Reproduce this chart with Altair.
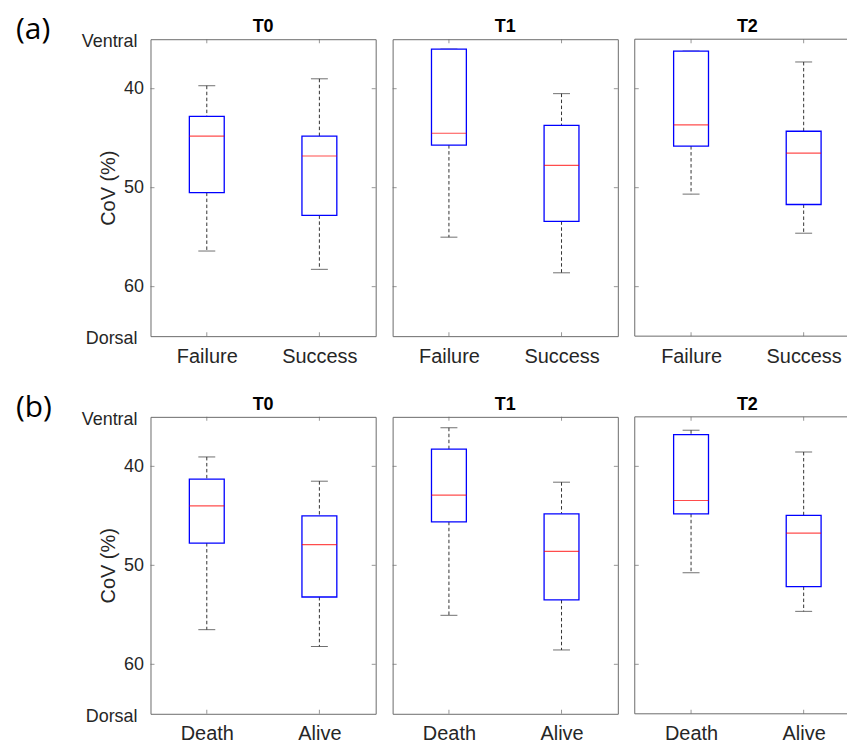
import altair as alt
import pandas as pd

# ---------------- data ----------------
panel_tags = ["(a)", "(b)"]
times = ["T0", "T1", "T2"]
groups_a = ["Failure", "Success"]
groups_b = ["Death", "Alive"]
y_ticks = [40, 50, 60]
end_labels = ["Ventral", "Dorsal"]
end_values = [35, 65]

# row (a): one [first group, second group] pair per time point
a_wlo = [[39.7, 39.0], [36.0, 40.5], [36.2, 37.3]]
a_q1 = [[42.8, 44.8], [36.0, 43.7], [36.2, 44.3]]
a_med = [[44.8, 46.8], [44.5, 47.75], [43.65, 46.5]]
a_q3 = [[50.5, 52.8], [45.7, 53.4], [45.8, 51.7]]
a_whi = [[56.4, 58.25], [55.0, 58.6], [50.65, 54.6]]

# row (b)
b_wlo = [[39.05, 41.5], [36.1, 41.6], [36.35, 38.55]]
b_q1 = [[41.3, 45.0], [38.25, 44.8], [36.8, 44.95]]
b_med = [[44.0, 47.9], [42.9, 48.6], [43.45, 46.75]]
b_q3 = [[47.75, 53.2], [45.6, 53.5], [44.8, 52.15]]
b_whi = [[56.5, 58.2], [55.05, 58.55], [50.75, 54.65]]

# ---------------- styling ----------------
W, H = 226, 298
W_LAST = 211          # last panel runs off the right edge of the page, as in the reference
BOX_W = 35
CAP_W = 17
AX_COL = "#6b6b6b"
TXT_COL = "#262626"
FONT = "Liberation Sans"


def make_df(groups, wlo, q1, med, q3, whi, ti):
    return pd.DataFrame({
        "group": groups,
        "wlo": wlo[ti],
        "q1": q1[ti],
        "med": med[ti],
        "q3": q3[ti],
        "whi": whi[ti],
    })


def panel(df, groups, time, tag, col):
    first = col == 0
    last = col == 2
    pw = W_LAST if last else W
    if last:
        xscale = alt.Scale(type="point", domain=groups, range=[W * 0.25, W * 0.75], padding=0)
    else:
        xscale = alt.Scale(type="point", padding=0.5, domain=groups)
    xaxis = alt.Axis(title=None, labelAngle=0, labelFontSize=20, labelFont=FONT,
                     labelColor=TXT_COL, tickSize=0, domain=False, labelPadding=10,
                     grid=False)
    x = alt.X("group:N", scale=xscale, axis=xaxis, sort=groups)
    yscale = alt.Scale(domain=[35, 65], reverse=True, nice=False, zero=False)
    if first:
        yaxis = alt.Axis(values=y_ticks, title="CoV (%)", titleFontSize=20, titleFont=FONT,
                         titleFontWeight="normal", titleColor=TXT_COL, labelFontSize=18,
                         labelFont=FONT, labelColor=TXT_COL, tickSize=0, domain=False,
                         labelPadding=7, titlePadding=5, grid=False)
    else:
        yaxis = None

    def Y(field):
        return alt.Y(field, scale=yscale, axis=yaxis)

    base = alt.Chart(df)
    whisk_lo = base.mark_rule(strokeDash=[3.5, 2.5], color="#333333", strokeWidth=1).encode(
        x=x, y=Y("wlo:Q"), y2="q1:Q")
    whisk_hi = base.mark_rule(strokeDash=[3.5, 2.5], color="#333333", strokeWidth=1).encode(
        x=x, y=Y("q3:Q"), y2="whi:Q")
    cap_lo = base.mark_tick(orient="horizontal", size=CAP_W, thickness=1, color="#333333").encode(
        x=x, y=Y("wlo:Q"))
    cap_hi = base.mark_tick(orient="horizontal", size=CAP_W, thickness=1, color="#333333").encode(
        x=x, y=Y("whi:Q"))
    box = base.mark_bar(size=BOX_W, fill="white", stroke="#0000ff", strokeWidth=1.3).encode(
        x=x, y=Y("q1:Q"), y2="q3:Q")
    median = base.mark_tick(orient="horizontal", size=BOX_W, thickness=1.2, color="#ff0000").encode(
        x=x, y=Y("med:Q"))

    tick_df = pd.DataFrame({"v": y_ticks})
    yt_left = alt.Chart(tick_df).mark_tick(orient="horizontal", size=4, thickness=1, color=AX_COL).encode(
        x=alt.value(2), y=Y("v:Q"))
    g_df = pd.DataFrame({"group": groups})
    xt_top = alt.Chart(g_df).mark_tick(orient="vertical", size=4, thickness=1, color=AX_COL).encode(
        x=x, y=alt.value(2))
    xt_bot = alt.Chart(g_df).mark_tick(orient="vertical", size=4, thickness=1, color=AX_COL).encode(
        x=x, y=alt.value(H - 2))

    layers = [yt_left, xt_top, xt_bot]
    if not last:
        yt_right = alt.Chart(tick_df).mark_tick(orient="horizontal", size=4, thickness=1,
                                                color=AX_COL).encode(x=alt.value(W - 2), y=Y("v:Q"))
        layers.append(yt_right)
    else:
        one = pd.DataFrame({"k": [0]})
        frame = alt.Chart(one)
        layers += [
            frame.mark_rule(color=AX_COL, strokeWidth=1).encode(
                x=alt.value(0), x2=alt.value(pw + 2), y=alt.value(0)),
            frame.mark_rule(color=AX_COL, strokeWidth=1).encode(
                x=alt.value(0), x2=alt.value(pw + 2), y=alt.value(H)),
            frame.mark_rule(color=AX_COL, strokeWidth=1).encode(
                x=alt.value(0), y=alt.value(0), y2=alt.value(H)),
        ]
    layers += [whisk_lo, whisk_hi, cap_lo, cap_hi, box, median]

    # panel title as text so that it lines up across the row
    title_df = pd.DataFrame({"t": [time]})
    title_txt = alt.Chart(title_df).mark_text(align="center", baseline="middle", fontSize=18,
                                              font=FONT, fontWeight="bold", color="black").encode(
        x=alt.value(W / 2), y=alt.value(-12), text="t:N")
    layers.append(title_txt)

    if first:
        end_df = pd.DataFrame({"v": end_values, "t": end_labels})
        ends = alt.Chart(end_df).mark_text(align="right", baseline="middle", dy=3, fontSize=18,
                                           font=FONT, color=TXT_COL).encode(
            x=alt.value(-13), y=Y("v:Q"), text="t:N")
        tag_df = pd.DataFrame({"t": [tag]})
        tag_txt = alt.Chart(tag_df).mark_text(align="left", baseline="middle", fontSize=30,
                                              font="Open Sans", color="black").encode(
            x=alt.value(-135), y=alt.value(-9), text="t:N")
        layers += [ends, tag_txt]

    props = dict(width=pw, height=H)
    if last:
        props["view"] = alt.ViewBackground(stroke="transparent", fill="white")
    return alt.layer(*layers).properties(**props)


panels = []
for r, (groups, arrs) in enumerate([
    (groups_a, (a_wlo, a_q1, a_med, a_q3, a_whi)),
    (groups_b, (b_wlo, b_q1, b_med, b_q3, b_whi)),
]):
    for ti, t in enumerate(times):
        df = make_df(groups, *arrs, ti)
        panels.append(panel(df, groups, t, panel_tags[r], ti))

chart = alt.ConcatChart(
    concat=panels, columns=3, spacing={"row": 81, "column": 17}, bounds="flush"
).properties(
    padding={"left": 7, "top": 5, "right": 0, "bottom": 0},
    background="white",
).configure_view(stroke=AX_COL, strokeWidth=1, fill="white")

chart.save("out.html", embed_options={"renderer": "svg", "actions": False})
